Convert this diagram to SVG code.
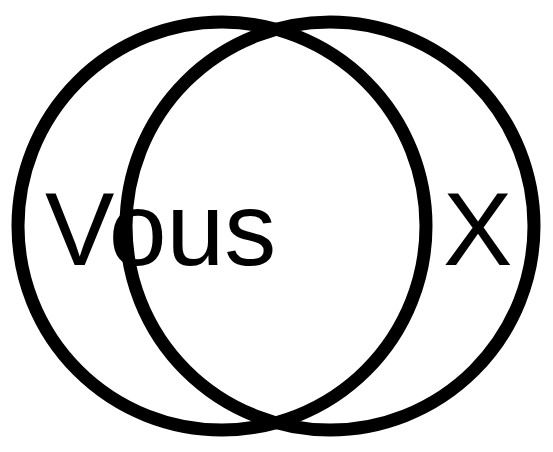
<svg xmlns="http://www.w3.org/2000/svg" width="553" height="452" viewBox="0 0 553 452">
<style>
.c{fill:none;stroke:#000;stroke-width:13}
.t{font-family:"Liberation Sans",Arial,sans-serif;font-size:104px;fill:#000}
</style>
<rect width="553" height="452" fill="#fff"/>
<g id="set-vous">
<circle class="c" cx="222" cy="226" r="204"/>
<text class="t" x="45" y="265">Vous</text>
</g>
<g id="set-x">
<circle class="c" cx="330" cy="226" r="204"/>
<text class="t" x="443" y="265">X</text>
</g>
<g id="connectors"></g>
</svg>
